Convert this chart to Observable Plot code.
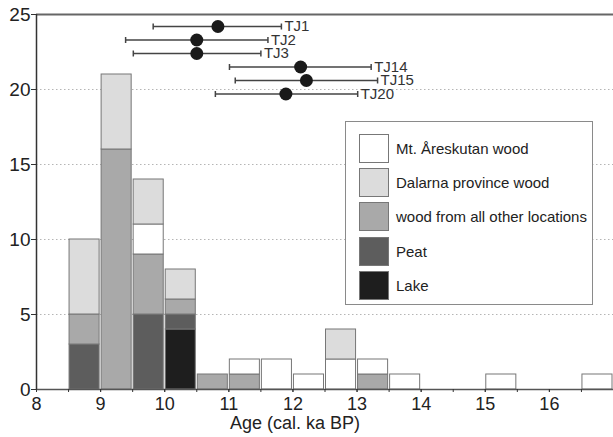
<!DOCTYPE html>
<html>
<head>
<meta charset="utf-8">
<script src="https://cdn.jsdelivr.net/npm/d3@7"></script>
<script src="https://cdn.jsdelivr.net/npm/@observablehq/plot@0.6"></script>
<style>
  html, body { margin: 0; padding: 0; background: #fff; }
  #wrap { position: relative; width: 613px; height: 437px; font-family: "Liberation Sans", Arial, sans-serif; }
  #legend { position: absolute; left: 345px; top: 121px; width: 248px; height: 184px; border: 1px solid #8a8a8a; background: #fff; box-sizing: border-box; padding: 9px 0 0 13px; }
  .row { display: flex; align-items: center; height: 34.3px; }
  .sw { width: 28px; height: 27px; border: 1px solid #777; margin-right: 7px; flex: none; }
  .lab { font-size: 15px; color: #222; white-space: nowrap; }
</style>
</head>
<body>
<div id="wrap"></div>
<script>
// ---- histogram data (bin start, width 0.5 ka) ----
const binStart  = [8.5, 9, 9.5, 10, 10.5, 11, 11.5, 12, 12.5, 13, 13.5, 15, 16.5];
const lake      = [0, 0, 0, 4, 0, 0, 0, 0, 0, 0, 0, 0, 0];
const peat      = [3, 0, 5, 1, 0, 0, 0, 0, 0, 0, 0, 0, 0];
const otherWood = [2, 16, 4, 1, 1, 1, 0, 0, 0, 1, 0, 0, 0];
const areskutan = [0, 0, 2, 0, 0, 1, 2, 1, 2, 1, 1, 1, 1];
const dalarna   = [5, 5, 3, 2, 0, 0, 0, 0, 2, 0, 0, 0, 0];
const binWidth = 0.5;

// stacking order (bottom to top) and legend order
const stackCats  = ["Lake", "Peat", "wood from all other locations", "Mt. Åreskutan wood", "Dalarna province wood"];
const legendCats = ["Mt. Åreskutan wood", "Dalarna province wood", "wood from all other locations", "Peat", "Lake"];
const catColors  = {"Mt. Åreskutan wood": "#ffffff", "Dalarna province wood": "#dcdcdc", "wood from all other locations": "#a9a9a9", "Peat": "#5d5d5d", "Lake": "#1e1e1e"};

// ---- dated samples ----
const samples = ["TJ1", "TJ2", "TJ3", "TJ14", "TJ15", "TJ20"];
const ageMid  = [10.83, 10.50, 10.50, 12.12, 12.21, 11.89];
const ageLow  = [9.82, 9.39, 9.51, 11.01, 11.10, 10.79];
const ageHigh = [11.82, 11.61, 11.50, 13.22, 13.32, 13.01];
const rowY    = [24.2, 23.3, 22.4, 21.5, 20.6, 19.7];

// ---- tick labels ----
const xTicks = [8, 9, 10, 11, 12, 13, 14, 15, 16];
const xMinorTicks = d3.range(8.5, 17, 0.5);
const yTicks = [0, 5, 10, 15, 20, 25];
const gridTicks = [5, 10, 15, 20];
const xLabel = "Age (cal. ka BP)";

// build table
const seriesByCat = {"Lake": lake, "Peat": peat, "wood from all other locations": otherWood, "Mt. Åreskutan wood": areskutan, "Dalarna province wood": dalarna};
const rows = [];
binStart.forEach((b, i) => {
  stackCats.forEach(c => {
    const n = seriesByCat[c][i];
    if (n > 0) rows.push({x1: b, x2: b + binWidth, count: n, cat: c});
  });
});
const dates = samples.map((s, i) => ({name: s, mid: ageMid[i], lo: ageLow[i], hi: ageHigh[i], y: rowY[i]}));

const capSymbol = { draw(ctx) { ctx.moveTo(0, -3); ctx.lineTo(0, 3); } };

const chart = Plot.plot({
  width: 613,
  height: 437,
  marginLeft: 36,
  marginRight: 0,
  marginTop: 14,
  marginBottom: 48,
  style: {fontFamily: "'Liberation Sans', Arial, sans-serif", background: "white", color: "#222"},
  x: {domain: [8, 17]},
  y: {domain: [0, 25]},
  color: {type: "ordinal", domain: stackCats, range: stackCats.map(c => catColors[c])},
  marks: [
    Plot.gridY(gridTicks, {stroke: "#b5b5b5", strokeOpacity: 1, strokeDasharray: "1.5,2.5"}),
    Plot.rectY(rows, Plot.stackY({x1: "x1", x2: "x2", y: "count", fill: "cat", order: stackCats, stroke: "#777", strokeWidth: 1, insetLeft: 1, insetRight: 1})),
    Plot.ruleY([0], {stroke: "#555", strokeWidth: 1.5}),
    Plot.ruleY([25], {stroke: "#666", strokeWidth: 2}),
    Plot.ruleX([8], {stroke: "#333", strokeWidth: 1.5}),
    Plot.axisY({ticks: yTicks, tickSize: 5, tickPadding: 1, fontSize: 19, label: null, stroke: "#333"}),
    Plot.axisX({ticks: xMinorTicks, tickSize: 3, tickFormat: () => "", label: null, stroke: "#333"}),
    Plot.axisX({ticks: xTicks, tickSize: 3, tickPadding: 5, fontSize: 18, label: null, stroke: "#333"}),
    Plot.text([xLabel], {frameAnchor: "bottom", dx: -30, dy: 39, fontSize: 18, fill: "#222"}),
    Plot.link(dates, {x1: "lo", x2: "hi", y1: "y", y2: "y", stroke: "#444", strokeWidth: 1.5}),
    Plot.dot(dates, {x: "lo", y: "y", symbol: capSymbol, stroke: "#444", strokeWidth: 1.5, r: 3}),
    Plot.dot(dates, {x: "hi", y: "y", symbol: capSymbol, stroke: "#444", strokeWidth: 1.5, r: 3}),
    Plot.dot(dates, {x: "mid", y: "y", r: 6.5, fill: "#1a1a1a", stroke: "none"}),
    Plot.text(dates, {x: "hi", y: "y", text: "name", textAnchor: "start", dx: 3, fontSize: 15, fill: "#333"})
  ]
});

const wrap = document.getElementById("wrap");
wrap.appendChild(chart);

const legend = document.createElement("div");
legend.id = "legend";
legendCats.forEach(c => {
  const r = document.createElement("div");
  r.className = "row";
  const sw = document.createElement("div");
  sw.className = "sw";
  sw.style.background = catColors[c];
  const lab = document.createElement("span");
  lab.className = "lab";
  lab.textContent = c;
  r.appendChild(sw);
  r.appendChild(lab);
  legend.appendChild(r);
});
wrap.appendChild(legend);
</script>
</body>
</html>
